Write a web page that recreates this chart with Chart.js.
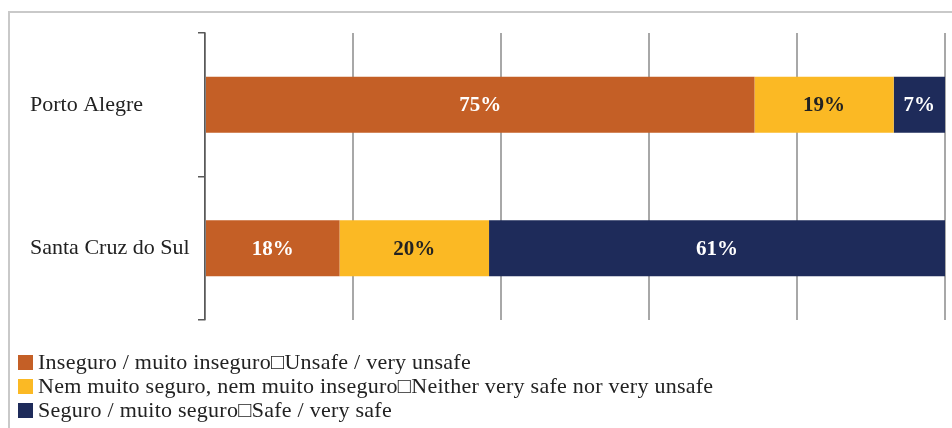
<!DOCTYPE html>
<html>
<head>
<meta charset="utf-8">
<script src="https://cdn.jsdelivr.net/npm/chart.js@4.4.0/dist/chart.umd.min.js"></script>
<style>
    body { margin: 0; background: #fff; overflow: hidden; }
    #wrap { position: relative; width: 952px; height: 428px; }
    #frame { position: absolute; left: 8px; top: 11px; width: 960px; height: 430px;
             border-top: 2px solid #c9c9c9; border-left: 2px solid #c9c9c9; }
    #legend { position: absolute; left: 18px; top: 350px; font-family: "Liberation Serif", serif;
              font-size: 22px; letter-spacing: 0.25px; color: #222; line-height: 24px; }
    #legend div { display: flex; align-items: center; white-space: nowrap; }
    #legend span.box { display: inline-block; width: 15px; height: 15px; margin-right: 5px; }
</style>
</head>
<body>
<div id="wrap">
    <div id="frame"></div>
    <canvas id="chart" width="952" height="428"></canvas>
    <div id="legend"></div>
</div>
<script>
// Data
const cities = ['Porto Alegre', 'Santa Cruz do Sul'];
const unsafe = [75, 18];
const neither = [19, 20];
const safe = [7, 61];
const seriesLabels = [
    'Inseguro / muito inseguro\u25A1Unsafe / very unsafe',
    'Nem muito seguro, nem muito inseguro\u25A1Neither very safe nor very unsafe',
    'Seguro / muito seguro\u25A1Safe / very safe'
];
const colors = ['#c45f26', '#fbb924', '#1e2b5a'];
const labelColors = ['#ffffff', '#222222', '#ffffff'];
const xTicks = [0, 20, 40, 60, 80, 100];

// bars are drawn as shares of each row's total (rows add up to 99-101)
const rows = [unsafe, neither, safe];
const totals = cities.map((c, i) => unsafe[i] + neither[i] + safe[i]);
const share = (arr) => arr.map((v, i) => v / totals[i] * 100);

const barLabels = {
    id: 'barLabels',
    afterDatasetsDraw(chart) {
        const ctx = chart.ctx;
        ctx.save();
        ctx.font = 'bold 21px "Liberation Serif", serif';
        ctx.textAlign = 'center';
        ctx.textBaseline = 'middle';
        chart.data.datasets.forEach((ds, di) => {
            chart.getDatasetMeta(di).data.forEach((bar, i) => {
                const cx = (bar.x + bar.base) / 2;
                ctx.fillStyle = labelColors[di];
                ctx.fillText(rows[di][i] + '%', cx, bar.y + 1);
            });
        });
        ctx.restore();
    }
};

const chart = new Chart(document.getElementById('chart'), {
    type: 'bar',
    data: {
        labels: cities,
        datasets: rows.map((r, i) => ({
            label: seriesLabels[i],
            data: share(r),
            backgroundColor: colors[i],
            categoryPercentage: 1,
            barPercentage: 0.39
        }))
    },
    options: {
        indexAxis: 'y',
        responsive: false,
        animation: false,
        layout: { padding: { left: 30, top: 33, right: 7, bottom: 108 } },
        scales: {
            x: {
                stacked: true,
                min: 0,
                max: 100,
                afterBuildTicks: (axis) => { axis.ticks = xTicks.map(v => ({ value: v })); },
                ticks: { display: false },
                grid: { color: '#a8a8a8', lineWidth: 2, drawTicks: false },
                border: { display: false }
            },
            y: {
                stacked: true,
                afterFit: (axis) => { axis.width = 175; },
                ticks: {
                    crossAlign: 'far',
                    color: '#222',
                    font: { family: '"Liberation Serif", serif', size: 22 }
                },
                grid: { drawOnChartArea: false, tickLength: 7, color: '#595959', lineWidth: 1.5 },
                border: { display: true, color: '#595959', width: 1.5 }
            }
        },
        plugins: {
            legend: { display: false },
            tooltip: { enabled: false }
        }
    },
    plugins: [barLabels]
});

// legend built from the chart's datasets
const legend = document.getElementById('legend');
chart.data.datasets.forEach((ds) => {
    const row = document.createElement('div');
    const box = document.createElement('span');
    box.className = 'box';
    box.style.background = ds.backgroundColor;
    row.appendChild(box);
    row.appendChild(document.createTextNode(ds.label));
    legend.appendChild(row);
});
</script>
</body>
</html>
